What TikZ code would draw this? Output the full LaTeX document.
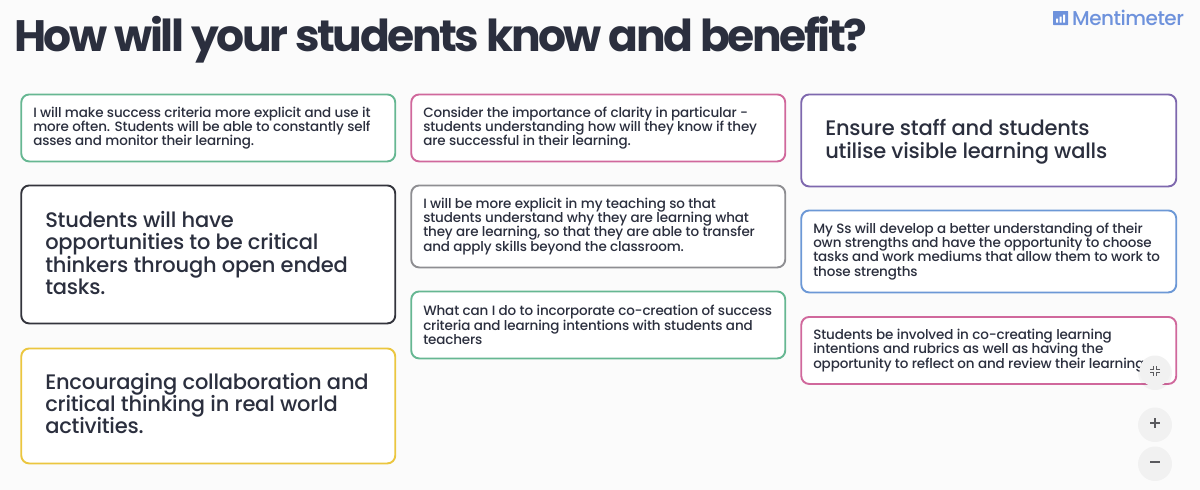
\documentclass[tikz,border=0pt]{standalone}
\usepackage{fontspec}
\setmainfont{Poppins}
\newfontfamily\titlefont[LetterSpace=-5.5]{Poppins Bold}
\newfontfamily\logofont[LetterSpace=-2.5]{Poppins Medium}
\newfontfamily\medfont[LetterSpace=-1]{Poppins Medium}
\usetikzlibrary{calc}
\definecolor{ink}{HTML}{2B2F3E}
\definecolor{cgreen}{HTML}{66B792}
\definecolor{cpink}{HTML}{D0689C}
\definecolor{cdark}{HTML}{33343C}
\definecolor{cyellow}{HTML}{EBC63F}
\definecolor{cgrey}{HTML}{8E8E92}
\definecolor{cpurple}{HTML}{7E68AE}
\definecolor{cblue}{HTML}{6C98D6}
\definecolor{logoblue}{HTML}{6E92DC}
\definecolor{btn}{HTML}{F1F1F1}
\definecolor{btnink}{HTML}{5A5A5E}
\newcommand{\cardtight}{\lineskiplimit=-10pt\relax\hyphenpenalty=10000\relax}
\tikzset{
  card/.style={draw, line width=1.9pt, rounded corners=8pt, fill=white, text=ink, align=flush left, anchor=north west, inner xsep=0pt, inner ysep=0pt},
  small/.style={card, font=\medfont\fontsize{13.5}{14.2}\selectfont\cardtight},
  big/.style={card, font=\medfont\fontsize{21}{22.4}\selectfont\cardtight},
  roundbtn/.style={circle, fill=btn, minimum size=31pt, inner sep=0pt},
  btnicon/.style={draw=btnink, line width=1.2pt},
}
\begin{document}
\begin{tikzpicture}[x=1pt,y=-1pt]
\useasboundingbox[fill=white!98.5!black] (0,0) rectangle (1200,490);
\node[anchor=base west, inner sep=0pt, text=ink, font=\titlefont\fontsize{44}{44}\selectfont] (title) at (14,51) {How will your students know and benefit?};
% logo
\node[anchor=base west, inner sep=0pt, text=logoblue, font=\logofont\fontsize{20}{20}\selectfont] (logo) at (1072,25) {Mentimeter};
\fill[logoblue, rounded corners=0.5pt] (1053,11) rectangle (1068,25);
\fill[white] (1056,18.5) rectangle (1058,22.5) (1059.5,16.5) rectangle (1061.5,22.5) (1063,14.5) rectangle (1065,22.5);
% column 1
\node[small, draw=cgreen, minimum width=374pt, minimum height=67pt, text width=350pt] (a1) at (20.3,93.5) {I will make success criteria more explicit and use it\\more often. Students will be able to constantly self\\asses and monitor their learning.};
\node[big, draw=cdark, minimum width=374pt, minimum height=138pt, text width=326pt] (a2) at (20.3,184.5) {Students will have\\opportunities to be critical\\thinkers through open ended\\tasks.\rule[-3pt]{0pt}{3pt}};
\node[big, draw=cyellow, minimum width=374pt, minimum height=115pt, text width=326pt] (a3) at (20.3,347.5) {Encouraging collaboration and\\critical thinking in real world\\activities.\rule[-5pt]{0pt}{5pt}};
% column 2
\node[small, draw=cpink, minimum width=374pt, minimum height=67pt, text width=350pt] (b1) at (410.3,93.5) {Consider the importance of clarity in particular -\\students understanding how will they know if they\\are successful in their learning.};
\node[small, draw=cgrey, minimum width=374pt, minimum height=82pt, text width=350pt] (b2) at (410.3,184.5) {I will be more explicit in my teaching so that\\students understand why they are learning what\\they are learning, so that they are able to transfer\\and apply skills beyond the classroom.};
\node[small, draw=cgreen, minimum width=374pt, minimum height=67pt, text width=350pt] (b3) at (410.3,290.5) {What can I do to incorporate co-creation of success\\criteria and learning intentions with students and\\teachers};
% column 3
\node[big, draw=cpurple, minimum width=375pt, minimum height=92pt, text width=327pt] (c1) at (800.3,93.5) {\rule{0pt}{19pt}Ensure staff and students\\utilise visible learning walls};
\node[small, draw=cblue, minimum width=375pt, minimum height=82pt, text width=351pt] (c2) at (800.3,209.5) {My Ss will develop a better understanding of their\\own strengths and have the opportunity to choose\\tasks and work mediums that allow them to work to\\those strengths};
\node[small, draw=cpink, minimum width=375pt, minimum height=67pt, text width=351pt] (c3) at (800.3,316) {Students be involved in co-creating learning\\intentions and rubrics as well as having the\\opportunity to reflect on and review their learning.};
% buttons
\fill[black, opacity=0.04] (1155,373) circle (17pt) (1155,425) circle (17pt) (1155,464) circle (17pt);
\node[roundbtn] (shrink) at (1155,371) {};
\node[roundbtn] (plus) at (1155,423) {};
\node[roundbtn] (minus) at (1155,462) {};
\draw[btnicon] ($(plus)+(-5,0)$) -- ($(plus)+(5,0)$) ($(plus)+(0,-5)$) -- ($(plus)+(0,5)$);
\draw[btnicon] ($(minus)+(-5,0)$) -- ($(minus)+(5,0)$);
\draw[btnicon, line width=1pt]
  ($(shrink)+(-5,-1.5)$) -- ($(shrink)+(-1.5,-1.5)$) -- ($(shrink)+(-1.5,-5)$)
  ($(shrink)+(5,-1.5)$) -- ($(shrink)+(1.5,-1.5)$) -- ($(shrink)+(1.5,-5)$)
  ($(shrink)+(-5,1.5)$) -- ($(shrink)+(-1.5,1.5)$) -- ($(shrink)+(-1.5,5)$)
  ($(shrink)+(5,1.5)$) -- ($(shrink)+(1.5,1.5)$) -- ($(shrink)+(1.5,5)$);
\end{tikzpicture}
\end{document}
